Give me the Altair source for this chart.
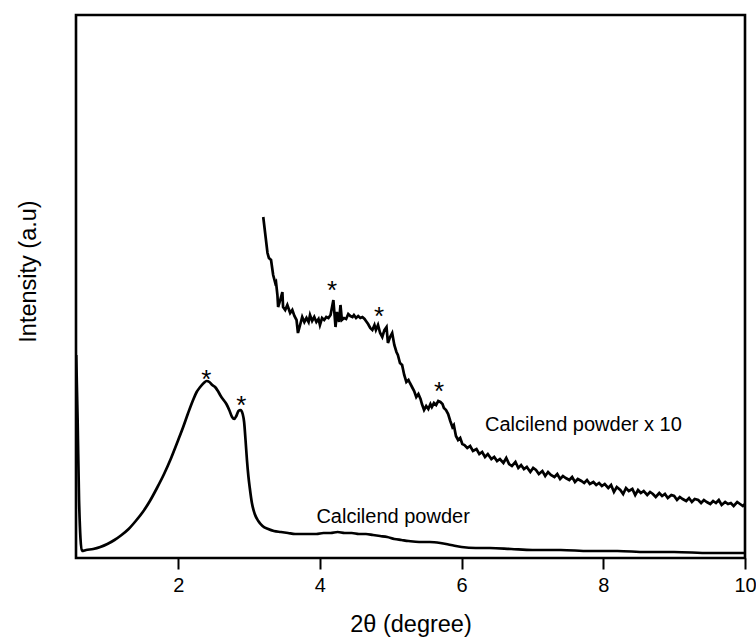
import altair as alt
import pandas as pd

# ---- data (2theta in degrees, intensity in arbitrary units) ----
powder_x = [0.56, 0.58, 0.60, 0.64, 0.70, 0.80, 0.90, 1.00, 1.10, 1.20, 1.30, 1.40,
            1.50, 1.60, 1.70, 1.80, 1.90, 2.00, 2.07, 2.14, 2.21, 2.26, 2.31, 2.36,
            2.40, 2.44, 2.48, 2.52, 2.56, 2.60, 2.64, 2.68, 2.72, 2.76, 2.79, 2.82,
            2.85, 2.88, 2.91, 2.93, 2.95, 2.97, 2.99, 3.01, 3.04, 3.08, 3.13, 3.19,
            3.27, 3.35, 3.45, 3.55, 3.65, 3.75, 3.85, 3.95, 4.05, 4.15, 4.25, 4.35,
            4.45, 4.55, 4.65, 4.75, 4.85, 4.95, 5.05, 5.15, 5.25, 5.40, 5.55, 5.70,
            5.85, 6.00, 6.20, 6.40, 6.70, 7.00, 7.40, 7.80, 8.20, 8.60, 9.00, 9.50, 10.0]
powder_y = [203, 138, 58, 7, 8, 9, 11, 14, 18, 23, 29, 37,
            46, 57, 70, 84, 100, 118, 131, 145, 158, 166, 171, 175,
            177, 176, 173, 171, 167, 162, 158, 154, 148, 141, 139, 142,
            147, 148, 144, 136, 118, 98, 82, 70, 55, 44, 37, 32,
            29, 27, 26, 25, 24, 24, 24, 24, 25, 25, 26, 25,
            25, 24, 24, 23, 22, 21, 19, 18, 17, 16, 16, 15,
            13, 11, 10, 10, 9, 8, 8, 7, 7, 6, 6, 5, 5]

x10_x = [3.20, 3.23, 3.26, 3.28, 3.31, 3.34, 3.37, 3.38, 3.40, 3.41, 3.44, 3.47,
         3.48, 3.51, 3.54, 3.58, 3.61, 3.64, 3.67, 3.69, 3.72, 3.75, 3.78, 3.81,
         3.84, 3.86, 3.89, 3.92, 3.95, 3.98, 4.00, 4.03, 4.06, 4.09, 4.12, 4.15,
         4.19, 4.22, 4.24, 4.27, 4.29, 4.31, 4.34, 4.37, 4.40, 4.43, 4.46, 4.48,
         4.51, 4.54, 4.57, 4.60, 4.63, 4.65, 4.68, 4.71, 4.74, 4.77, 4.79, 4.82,
         4.85, 4.88, 4.91, 4.94, 4.96, 4.99, 5.02, 5.05, 5.08, 5.10, 5.13, 5.16,
         5.19, 5.22, 5.25, 5.27, 5.30, 5.33, 5.36, 5.39, 5.42, 5.44, 5.47, 5.50,
         5.53, 5.56, 5.58, 5.61, 5.64, 5.67, 5.70, 5.73, 5.75, 5.78, 5.81, 5.84,
         5.87, 5.89, 5.92, 5.95, 5.98, 6.01,
         6.04, 6.08, 6.12, 6.16, 6.21, 6.25, 6.29, 6.33, 6.37, 6.42,
         6.46, 6.50, 6.54, 6.59, 6.63, 6.67, 6.71, 6.76, 6.80, 6.84,
         6.88, 6.92, 6.97, 7.01, 7.05, 7.09, 7.14, 7.18, 7.22, 7.26,
         7.31, 7.35, 7.39, 7.43, 7.47, 7.52, 7.56, 7.60, 7.64, 7.69,
         7.73, 7.77, 7.81, 7.86, 7.90, 7.94, 7.98, 8.02, 8.07, 8.11,
         8.15, 8.19, 8.24, 8.28, 8.32, 8.36, 8.41, 8.45, 8.49, 8.53,
         8.57, 8.62, 8.66, 8.70, 8.74, 8.79, 8.83, 8.87, 8.91, 8.96,
         9.00, 9.04, 9.08, 9.12, 9.17, 9.21, 9.25, 9.29, 9.34, 9.38,
         9.42, 9.46, 9.51, 9.55, 9.59, 9.63, 9.67, 9.72, 9.76, 9.80,
         9.84, 9.89, 9.93, 9.97, 10.0]
x10_y = [341, 323, 305, 300, 298, 283, 275, 276, 263, 251, 258, 266,
         251, 248, 253, 245, 248, 242, 238, 225, 233, 241, 236, 240,
         236, 243, 237, 241, 236, 239, 233, 240, 238, 241, 240, 243,
         258, 231, 246, 236, 253, 238, 240, 239, 244, 242, 241, 243,
         240, 242, 240, 241, 239, 237, 234, 230, 228, 233, 228, 233,
         225, 221, 228, 231, 215, 221, 225, 213, 206, 203, 195, 193,
         183, 176, 178, 175, 171, 167, 161, 164, 159, 154, 148, 152,
         149, 154, 151, 155, 153, 157, 156, 154, 150, 148, 144, 137,
         131, 133, 122, 118, 120, 114,
         113, 110, 112, 107, 109, 104, 106, 101, 104, 99,
         101, 97, 99, 95, 100, 94, 92, 96, 90, 93,
         89, 91, 86, 90, 88, 84, 87, 82, 86, 83,
         81, 84, 79, 82, 80, 78, 81, 76, 79, 77,
         75, 78, 74, 76, 73, 75, 72, 74, 70, 73,
         66, 71, 68, 64, 70, 67, 69, 63, 68, 65,
         67, 63, 66, 64, 61, 65, 62, 64, 60, 63,
         62, 58, 61, 59, 57, 60, 56, 59, 58, 55,
         58, 56, 54, 57, 55, 58, 53, 56, 54, 55,
         52, 56, 54, 52, 54]

star_x = [2.395, 2.889, 4.173, 4.836, 5.682]
star_y = [185, 159, 274, 248, 173]

label_text = ["Calcilend powder", "Calcilend powder x 10"]
label_x = [3.95, 6.33]
label_y = [41, 133]

FONT = "Liberation Sans"

df_p = pd.DataFrame({"x": powder_x, "y": powder_y})
df_t = pd.DataFrame({"x": x10_x, "y": x10_y})
df_s = pd.DataFrame({"x": star_x, "y": star_y})
df_l = pd.DataFrame({"x": label_x, "y": label_y, "t": label_text})

x_scale = alt.Scale(domain=[0.557, 10], nice=False, zero=False)
y_scale = alt.Scale(domain=[0, 543], nice=False, zero=False)

x_axis = alt.Axis(values=[2, 4, 6, 8, 10], title="2θ (degree)", grid=False,
                  domain=False, ticks=True, tickSize=11, tickWidth=2,
                  tickColor="black", labelFontSize=20, labelPadding=6,
                  labelColor="black", labelFont=FONT, labelFlush=False,
                  titleFont=FONT, titleFontSize=23.5, titleFontWeight="normal",
                  titleColor="black", titlePadding=17)
y_axis = alt.Axis(title="Intensity (a.u)", labels=False, ticks=False,
                  domain=False, grid=False, titleFont=FONT, titleFontSize=23.5,
                  titleFontWeight="normal", titleColor="black", titleAngle=270,
                  titleX=-48, titleY=256, titleAlign="center",
                  titleBaseline="middle")

xe = alt.X("x:Q", scale=x_scale, axis=x_axis)
ye = alt.Y("y:Q", scale=y_scale, axis=y_axis)

powder = alt.Chart(df_p).mark_line(color="black", strokeWidth=2.7, clip=True,
                                   interpolate="monotone").encode(x=xe, y=ye)
x10 = alt.Chart(df_t).mark_line(color="black", strokeWidth=2.7, clip=True).encode(x=xe, y=ye)
stars = alt.Chart(df_s).mark_text(text="*", fontSize=26, font=FONT, baseline="alphabetic",
                                  dy=15, color="black").encode(x=xe, y=ye)
labels = alt.Chart(df_l).mark_text(align="left", baseline="middle", fontSize=20,
                                   font=FONT, color="black").encode(x=xe, y=ye, text="t:N")

chart = alt.layer(powder, x10, stars, labels).properties(
    width=669, height=543,
    autosize=alt.AutoSizeParams(type="none"),
    padding={"left": 76, "top": 15, "right": 11, "bottom": 79},
    background="white",
).configure_view(stroke="black", strokeWidth=2.6)

chart.save("out.html", embed_options={"renderer": "svg", "actions": False})
